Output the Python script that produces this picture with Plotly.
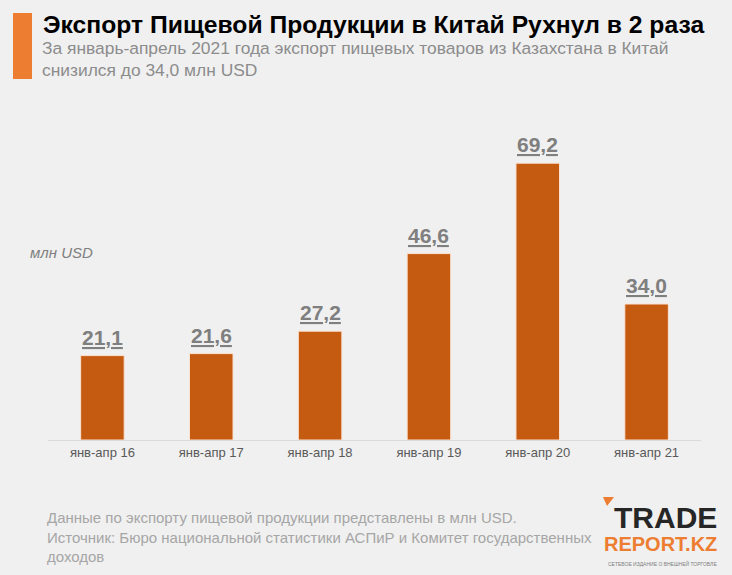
import plotly.graph_objects as go

categories = ["янв-апр 16", "янв-апр 17", "янв-апр 18", "янв-апр 19", "янв-апр 20", "янв-апр 21"]
values = [21.1, 21.6, 27.2, 46.6, 69.2, 34.0]
value_labels = ["21,1", "21,6", "27,2", "46,6", "69,2", "34,0"]

title_text = "Экспорт Пищевой Продукции в Китай Рухнул в 2 раза"
subtitle_lines = ["За январь-апрель 2021 года экспорт пищевых товаров из Казахстана в Китай",
                  "снизился до 34,0 млн USD"]
unit_text = "млн USD"
footer_lines = ["Данные по экспорту пищевой продукции представлены в млн USD.",
                "Источник: Бюро национальной статистики АСПиР и Комитет государственных",
                "доходов"]

W, H = 732, 575
L, R, T, B = 48, 31, 150, 135
PW = W - L - R
PH = H - T - B


def px(x):
    return (x - L) / PW


def py(y):
    return (H - B - y) / PH


FONT = "Liberation Sans, Arial, sans-serif"

fig = go.Figure()
fig.add_trace(go.Bar(
    x=categories, y=values,
    marker=dict(color="#c55a11", line=dict(color="#fbe3d2", width=1)),
    hoverinfo="skip",
))

annotations = []
for c, v, t in zip(categories, values, value_labels):
    annotations.append(dict(text="<b><u>" + t + "</u></b>", x=c, y=v, xref="x", yref="y",
                            xanchor="center", yanchor="bottom", yshift=5, showarrow=False,
                            font=dict(family=FONT, size=21, color="#7f7f7f")))

paper_ann = []
paper_ann.append(dict(text="<b>" + title_text + "</b>", x=px(41), y=py(24), xanchor="left", yanchor="middle",
                      font=dict(family=FONT, size=24.7, color="#000000")))
paper_ann.append(dict(text=subtitle_lines[0], x=px(40), y=py(48), xanchor="left", yanchor="middle",
                      font=dict(family=FONT, size=17.4, color="#8c8c8c")))
paper_ann.append(dict(text=subtitle_lines[1], x=px(40), y=py(70), xanchor="left", yanchor="middle",
                      font=dict(family=FONT, size=17.4, color="#8c8c8c")))
paper_ann.append(dict(text="<i>" + unit_text + "</i>", x=px(28), y=py(252), xanchor="left", yanchor="middle",
                      font=dict(family=FONT, size=15, color="#7f7f7f")))
for line, yy in zip(footer_lines, [517, 537, 556]):
    paper_ann.append(dict(text=line, x=px(45), y=py(yy), xanchor="left", yanchor="middle",
                          font=dict(family=FONT, size=15, color="#a6a6a6")))
# logo
paper_ann.append(dict(text="<b>TRADE</b>", x=px(719), y=py(517), xanchor="right", yanchor="middle",
                      font=dict(family=FONT, size=30, color="#262626")))
paper_ann.append(dict(text="<b>REPORT.KZ</b>", x=px(719), y=py(544), xanchor="right", yanchor="middle",
                      font=dict(family=FONT, size=20, color="#ed7d31")))
paper_ann.append(dict(text="СЕТЕВОЕ ИЗДАНИЕ О ВНЕШНЕЙ ТОРГОВЛЕ", x=px(719), y=py(563), xanchor="right",
                      yanchor="middle", font=dict(family=FONT, size=5, color="#7f7f7f")))
for a in paper_ann:
    a.update(xref="paper", yref="paper", showarrow=False)
annotations += paper_ann

shapes = [
    dict(type="rect", xref="paper", yref="paper", x0=px(13), x1=px(32), y0=py(79), y1=py(13),
         fillcolor="#ed7d31", line=dict(width=0)),
    dict(type="path", xref="paper", yref="paper",
         path=f"M {px(603)},{py(497)} L {px(614)},{py(497)} L {px(607)},{py(506)} Z",
         fillcolor="#ed7d31", line=dict(width=0)),
]

fig.update_layout(
    width=W, height=H,
    margin=dict(l=L, r=R, t=T, b=B, pad=0),
    paper_bgcolor="#f0f0f0", plot_bgcolor="#f0f0f0",
    bargap=0.6,
    showlegend=False,
    annotations=annotations,
    shapes=shapes,
    xaxis=dict(showline=True, linecolor="#d9d9d9", linewidth=1, ticks="", showgrid=False,
               tickfont=dict(family=FONT, size=13, color="#595959"), fixedrange=True),
    yaxis=dict(range=[0, 72.5], visible=False, showgrid=False, zeroline=False, fixedrange=True),
)

fig.write_html("out.html", config={"displayModeBar": False},
               post_script="document.body.style.margin='0px';document.body.style.backgroundColor='#f0f0f0';")
